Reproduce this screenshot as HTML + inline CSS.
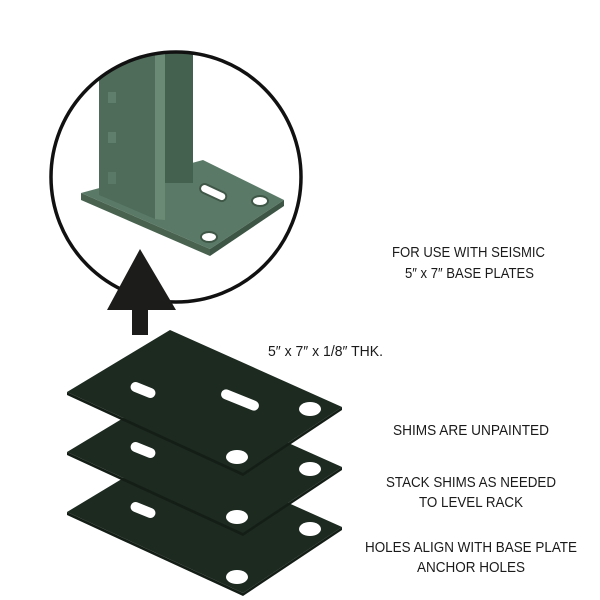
<!DOCTYPE html>
<html><head><meta charset="utf-8"><style>
html,body{margin:0;padding:0;background:#fff;}
svg{display:block}
text{font-family:"Liberation Sans",sans-serif;font-size:15px;fill:#1a1a1a;}
</style></head><body>
<svg width="600" height="600" viewBox="0 0 600 600" xmlns="http://www.w3.org/2000/svg">
<defs><clipPath id="c"><circle cx="176" cy="177" r="125"/></clipPath></defs>
<g clip-path="url(#c)">
  <polygon points="81,193 203,160 284,200 210,249" fill="#5a7a67"/>
  <polygon points="81,193 210,249 210,256 81,200" fill="#48624f"/>
  <polygon points="210,249 284,200 284,206 210,256" fill="#3d5545"/>
  <rect x="165" y="40" width="28" height="143" fill="#44604f"/>
  <polygon points="99,40 155,40 155,219 99,195" fill="#4f6c5a"/>
  <polygon points="155,40 165,40 165,220 155,219" fill="#6a8a76"/>
  <rect x="108" y="92" width="8" height="11" fill="#5f7f6c"/>
  <rect x="108" y="132" width="8" height="11" fill="#5f7f6c"/>
  <rect x="108" y="172" width="8" height="12" fill="#5a7967"/>
  <g transform="rotate(25 213 193)"><rect x="199" y="188" width="28" height="9" rx="4.5" fill="#fff" stroke="#3f5747" stroke-width="2"/></g>
  <ellipse cx="260" cy="201" rx="8" ry="5" fill="#fff" stroke="#3f5747" stroke-width="2"/>
  <ellipse cx="209" cy="237" rx="8" ry="5" fill="#fff" stroke="#3f5747" stroke-width="2"/>
</g>
<circle cx="176" cy="177" r="125" fill="none" stroke="#111" stroke-width="3.5"/>
<polygon points="140,249 176,310 148,310 148,335 132,335 132,310 107,310" fill="#1c1d1b"/>
<g fill="#1c2a20">
  <g transform="translate(0,120)">
    <polygon points="170,330 342,407 243,473 67,392"/>
    <polygon points="67,392 243,473 243,476 67,395" fill="#141e17"/>
    <polygon points="243,473 342,407 342,410 243,476" fill="#141e17"/>
    <g transform="rotate(22 143 390)"><rect x="130" y="385" width="26" height="10" rx="5" fill="#fff"/></g>
    <ellipse cx="310" cy="409" rx="11" ry="7" fill="#fff"/>
    <ellipse cx="237" cy="457" rx="11" ry="7" fill="#fff"/>
  </g>
  <g transform="translate(0,60)">
    <polygon points="170,330 342,407 243,473 67,392"/>
    <polygon points="67,392 243,473 243,476 67,395" fill="#141e17"/>
    <polygon points="243,473 342,407 342,410 243,476" fill="#141e17"/>
    <g transform="rotate(22 143 390)"><rect x="130" y="385" width="26" height="10" rx="5" fill="#fff"/></g>
    <ellipse cx="310" cy="409" rx="11" ry="7" fill="#fff"/>
    <ellipse cx="237" cy="457" rx="11" ry="7" fill="#fff"/>
  </g>
  <g>
    <polygon points="170,330 342,407 243,473 67,392"/>
    <polygon points="67,392 243,473 243,476 67,395" fill="#141e17"/>
    <polygon points="243,473 342,407 342,410 243,476" fill="#141e17"/>
    <g transform="rotate(22 143 390)"><rect x="130" y="385" width="26" height="10" rx="5" fill="#fff"/></g>
    <g transform="rotate(22 240 400)"><rect x="220" y="395" width="40" height="10" rx="5" fill="#fff"/></g>
    <ellipse cx="310" cy="409" rx="11" ry="7" fill="#fff"/>
    <ellipse cx="237" cy="457" rx="11" ry="7" fill="#fff"/>
  </g>
</g>
<text x="392" y="257" textLength="153" lengthAdjust="spacingAndGlyphs">FOR USE WITH SEISMIC</text>
<text x="405" y="278" textLength="129" lengthAdjust="spacingAndGlyphs">5″ x 7″ BASE PLATES</text>
<text x="268" y="356" textLength="115" lengthAdjust="spacingAndGlyphs">5″ x 7″ x 1/8″ THK.</text>
<text x="393" y="435" textLength="156" lengthAdjust="spacingAndGlyphs">SHIMS ARE UNPAINTED</text>
<text x="386" y="487" textLength="170" lengthAdjust="spacingAndGlyphs">STACK SHIMS AS NEEDED</text>
<text x="419" y="507" textLength="104" lengthAdjust="spacingAndGlyphs">TO LEVEL RACK</text>
<text x="365" y="552" textLength="212" lengthAdjust="spacingAndGlyphs">HOLES ALIGN WITH BASE PLATE</text>
<text x="417" y="572" textLength="108" lengthAdjust="spacingAndGlyphs">ANCHOR HOLES</text>
</svg>
</body></html>
